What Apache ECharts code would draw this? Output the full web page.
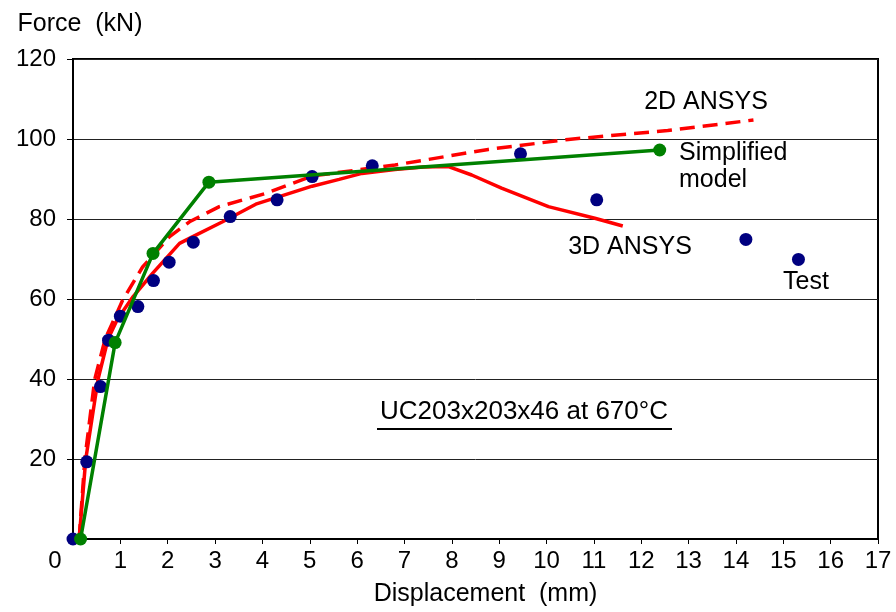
<!DOCTYPE html>
<html>
<head>
<meta charset="utf-8">
<script src="https://cdn.jsdelivr.net/npm/echarts@6/dist/echarts.min.js"></script>
<style>
  html, body { margin: 0; padding: 0; background: #fff; }
  #chart { width: 896px; height: 612px; }
</style>
</head>
<body>
<div id="chart"></div>
<script>
  // Test results
  var testX = [0, 0.29, 0.58, 0.75, 1.0, 1.37, 1.70, 2.03, 2.54, 3.32, 4.31, 5.05, 6.32, 9.45, 11.06, 14.21, 15.32];
  var testY = [0, 19.3, 38.1, 49.7, 55.7, 58.1, 64.6, 69.2, 74.2, 80.6, 84.8, 90.6, 93.3, 96.3, 84.8, 74.9, 69.9];

  // Simplified model
  var simpX = [0.16, 0.89, 1.69, 2.87, 12.39];
  var simpY = [0, 49.1, 71.4, 89.2, 97.25];

  // 3D ANSYS (solid)
  var ansys3dX = [0.13, 0.27, 0.53, 0.74, 0.94, 1.27, 1.68, 2.25, 2.53, 3.16, 3.86, 5.05, 5.62, 6.1, 6.8, 7.4, 7.93, 8.42, 9.05, 10.04, 11.02, 11.61];
  var ansys3dY = [0, 20, 40, 50, 55, 60.6, 66.4, 73.9, 75.6, 79.3, 83.7, 88.2, 89.9, 91.4, 92.4, 93.0, 93.1, 91, 87.7, 83.1, 80.2, 78.25];

  // 2D ANSYS (dashed)
  var ansys2dX = [0.13, 0.25, 0.46, 0.68, 1.05, 1.47, 2.04, 2.46, 3.09, 4.07, 5.05, 6.8, 8.77, 10.46, 12.56, 14.37];
  var ansys2dY = [0, 20, 40, 50, 59.75, 68, 75.6, 79.3, 83.1, 86.4, 90.75, 93.5, 97.4, 99.9, 102.1, 104.75];

  var xTicks = { min: 0, max: 17, step: 1 };
  var yTicks = { min: 0, max: 120, step: 20 };

  function pairs(xs, ys) {
    return xs.map(function (x, i) { return [x, ys[i]]; });
  }

  var FONT = 'Liberation Sans, Arial, sans-serif';

  var chart = echarts.init(document.getElementById('chart'));
  chart.setOption({
    animation: false,
    textStyle: { fontFamily: FONT },
    grid: {
      left: 73, right: 18, top: 59, bottom: 73,
      show: true, borderColor: '#000', borderWidth: 2, backgroundColor: '#fff'
    },
    xAxis: {
      type: 'value',
      min: xTicks.min, max: xTicks.max, interval: xTicks.step,
      name: 'Displacement  (mm)',
      nameLocation: 'middle',
      nameGap: 55,
      nameTextStyle: { fontSize: 25, color: '#000', fontFamily: FONT, verticalAlign: 'middle', padding: [0, 0, 0, 20] },
      axisLine: { lineStyle: { color: '#000', width: 2 } },
      axisTick: { show: true, length: 5, lineStyle: { color: '#000', width: 1 } },
      splitLine: { show: false },
      axisLabel: {
        margin: 10, fontSize: 24, color: '#000', fontFamily: FONT,
        formatter: function (v) { return v === 0 ? '{z|0}' : String(v); },
        rich: { z: { fontSize: 24, color: '#000', fontFamily: FONT, padding: [0, 36, 0, 0] } }
      }
    },
    yAxis: {
      type: 'value',
      min: yTicks.min, max: yTicks.max, interval: yTicks.step,
      name: 'Force  (kN)',
      nameLocation: 'end',
      nameGap: 35,
      nameTextStyle: { fontSize: 25, color: '#000', fontFamily: FONT, align: 'center', verticalAlign: 'middle', padding: [0, 0, 0, 14] },
      axisLine: { show: true, lineStyle: { color: '#000', width: 2 } },
      axisTick: { show: true, length: 6, lineStyle: { color: '#000', width: 1 } },
      splitLine: { show: true, lineStyle: { color: '#222', width: 1 } },
      axisLabel: {
        margin: 17, fontSize: 24, color: '#000', fontFamily: FONT,
        formatter: function (v) { return v === 0 ? '' : String(v); }
      }
    },
    series: [
      {
        name: '2D ANSYS', type: 'line', data: pairs(ansys2dX, ansys2dY),
        showSymbol: false, symbol: 'none',
        lineStyle: { color: '#ff0000', width: 3.5, type: [15, 8] }, z: 2
      },
      {
        name: '3D ANSYS', type: 'line', data: pairs(ansys3dX, ansys3dY),
        showSymbol: false, symbol: 'none',
        lineStyle: { color: '#ff0000', width: 3.5 }, z: 3
      },
      {
        name: 'Test', type: 'scatter', data: pairs(testX, testY),
        symbol: 'circle', symbolSize: 13,
        itemStyle: { color: '#000080', opacity: 1 }, z: 4
      },
      {
        name: 'Simplified model', type: 'line', data: pairs(simpX, simpY),
        symbol: 'circle', symbolSize: 13, showSymbol: true,
        lineStyle: { color: '#008000', width: 3.5 },
        itemStyle: { color: '#008000', borderWidth: 0, opacity: 1 }, z: 5
      }
    ],
    graphic: [
      { type: 'text', x: 706, y: 102, style: { text: '2D ANSYS', font: '25px ' + FONT, fill: '#000', align: 'center', verticalAlign: 'middle' } },
      { type: 'text', x: 679, y: 153, style: { text: 'Simplified', font: '25px ' + FONT, fill: '#000', align: 'left', verticalAlign: 'middle' } },
      { type: 'text', x: 679, y: 180, style: { text: 'model', font: '25px ' + FONT, fill: '#000', align: 'left', verticalAlign: 'middle' } },
      { type: 'text', x: 630, y: 247, style: { text: '3D ANSYS', font: '25px ' + FONT, fill: '#000', align: 'center', verticalAlign: 'middle' } },
      { type: 'text', x: 806, y: 282, style: { text: 'Test', font: '25px ' + FONT, fill: '#000', align: 'center', verticalAlign: 'middle' } },
      { type: 'text', x: 524, y: 412, style: { text: 'UC203x203x46 at 670°C', font: '26px ' + FONT, fill: '#000', align: 'center', verticalAlign: 'middle' } },
      { type: 'line', shape: { x1: 377, y1: 429, x2: 672, y2: 429 }, style: { stroke: '#000', lineWidth: 2 } }
    ]
  });
</script>
</body>
</html>
